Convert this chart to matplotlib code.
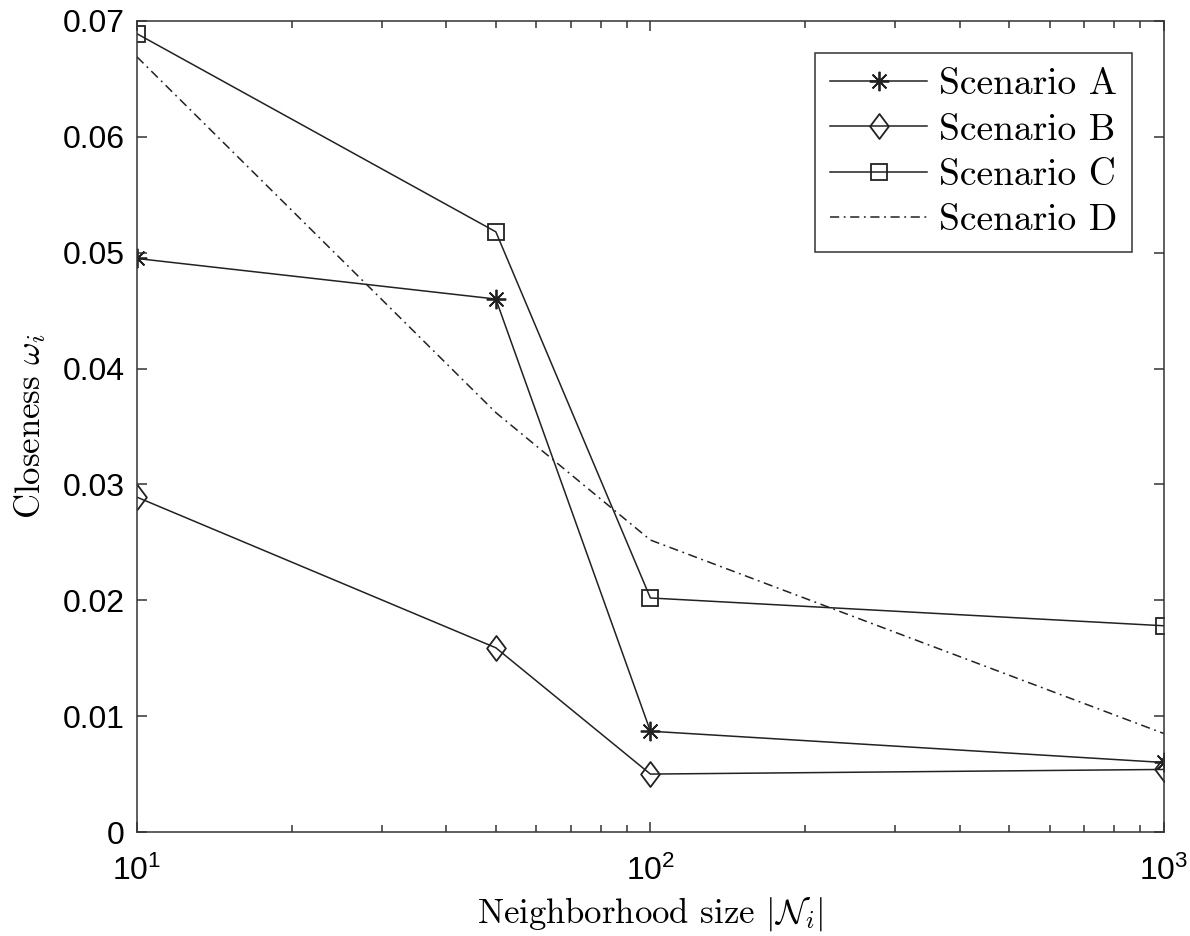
import matplotlib
matplotlib.use("Agg")
import matplotlib.pyplot as plt
from matplotlib.path import Path

# ---- data ----
sizes = [10, 50, 100, 1000]
scenario_a = [0.0495, 0.0460, 0.0087, 0.0060]
scenario_b = [0.0289, 0.0159, 0.0050, 0.0054]
scenario_c = [0.0689, 0.0518, 0.0202, 0.0178]
scenario_d = [0.0669, 0.0362, 0.0252, 0.0085]
labels = ["Scenario A", "Scenario B", "Scenario C", "Scenario D"]

yticks = [0, 0.01, 0.02, 0.03, 0.04, 0.05, 0.06, 0.07]
yticklabels = ["0", "0.01", "0.02", "0.03", "0.04", "0.05", "0.06", "0.07"]
xticks = [10, 100, 1000]
xticklabels = [r"$\mathdefault{10^{1}}$", r"$\mathdefault{10^{2}}$", r"$\mathdefault{10^{3}}$"]

plt.rcParams["mathtext.fontset"] = "cm"
plt.rcParams["axes.unicode_minus"] = False

line_col = "#222222"
tick_font = ["Liberation Sans", "DejaVu Sans"]
serif_font = ["cmr10", "DejaVu Serif"]

# MATLAB-like diamond (a bit taller than wide)
diamond = Path([(0, 1), (0.75, 0), (0, -1), (-0.75, 0), (0, 1)],
               [Path.MOVETO, Path.LINETO, Path.LINETO, Path.LINETO, Path.CLOSEPOLY])

fig = plt.figure(figsize=(11.9, 9.36), dpi=100)
ax = fig.add_axes([0.1151, 0.1111, 0.8629, 0.8665])

common = dict(color=line_col, lw=1.1, markerfacecolor="none",
              markeredgecolor=line_col, markeredgewidth=1.3)
ax.plot(sizes, scenario_a, marker=(8, 2, 0), markersize=14, label=labels[0], **common)
ax.plot(sizes, scenario_b, marker=diamond, markersize=18, label=labels[1], **common)
ax.plot(sizes, scenario_c, marker="s", markersize=12, label=labels[2], **common)
ax.plot(sizes, scenario_d, linestyle=(0, (6, 3, 1.2, 3)), label=labels[3],
        color=line_col, lw=1.1)

ax.set_xscale("log")
ax.set_xlim(10, 1000)
ax.set_ylim(0, 0.07)
ax.set_xticks(xticks)
ax.set_xticklabels(xticklabels)
ax.set_yticks(yticks)
ax.set_yticklabels(yticklabels)

for lab in ax.get_xticklabels() + ax.get_yticklabels():
    lab.set_fontfamily(tick_font)
    lab.set_fontsize(23)

ax.tick_params(which="both", direction="in", top=True, right=True,
               color="#333333", width=1.1)
ax.tick_params(which="major", length=7)
ax.tick_params(which="minor", length=5)
ax.tick_params(axis="y", pad=9)
ax.tick_params(axis="x", pad=17)
for s in ax.spines.values():
    s.set_linewidth(1.1)
    s.set_color("#333333")

ax.set_xlabel(r"Neighborhood size $|\mathcal{N}_i|$", fontfamily=serif_font,
              fontsize=25, labelpad=6)
ax.set_ylabel(r"Closeness $\omega_i$", fontfamily=serif_font, fontsize=25,
              labelpad=10)

leg = ax.legend(loc="upper right", bbox_to_anchor=(0.969, 0.9605),
                borderaxespad=0, prop={"family": serif_font, "size": 27},
                handlelength=2.6, handletextpad=0.3, labelspacing=0.32,
                fancybox=False, framealpha=1, edgecolor="#333333",
                borderpad=0.4)
leg.get_frame().set_linewidth(1.1)

fig.savefig("out.png", dpi=100)
